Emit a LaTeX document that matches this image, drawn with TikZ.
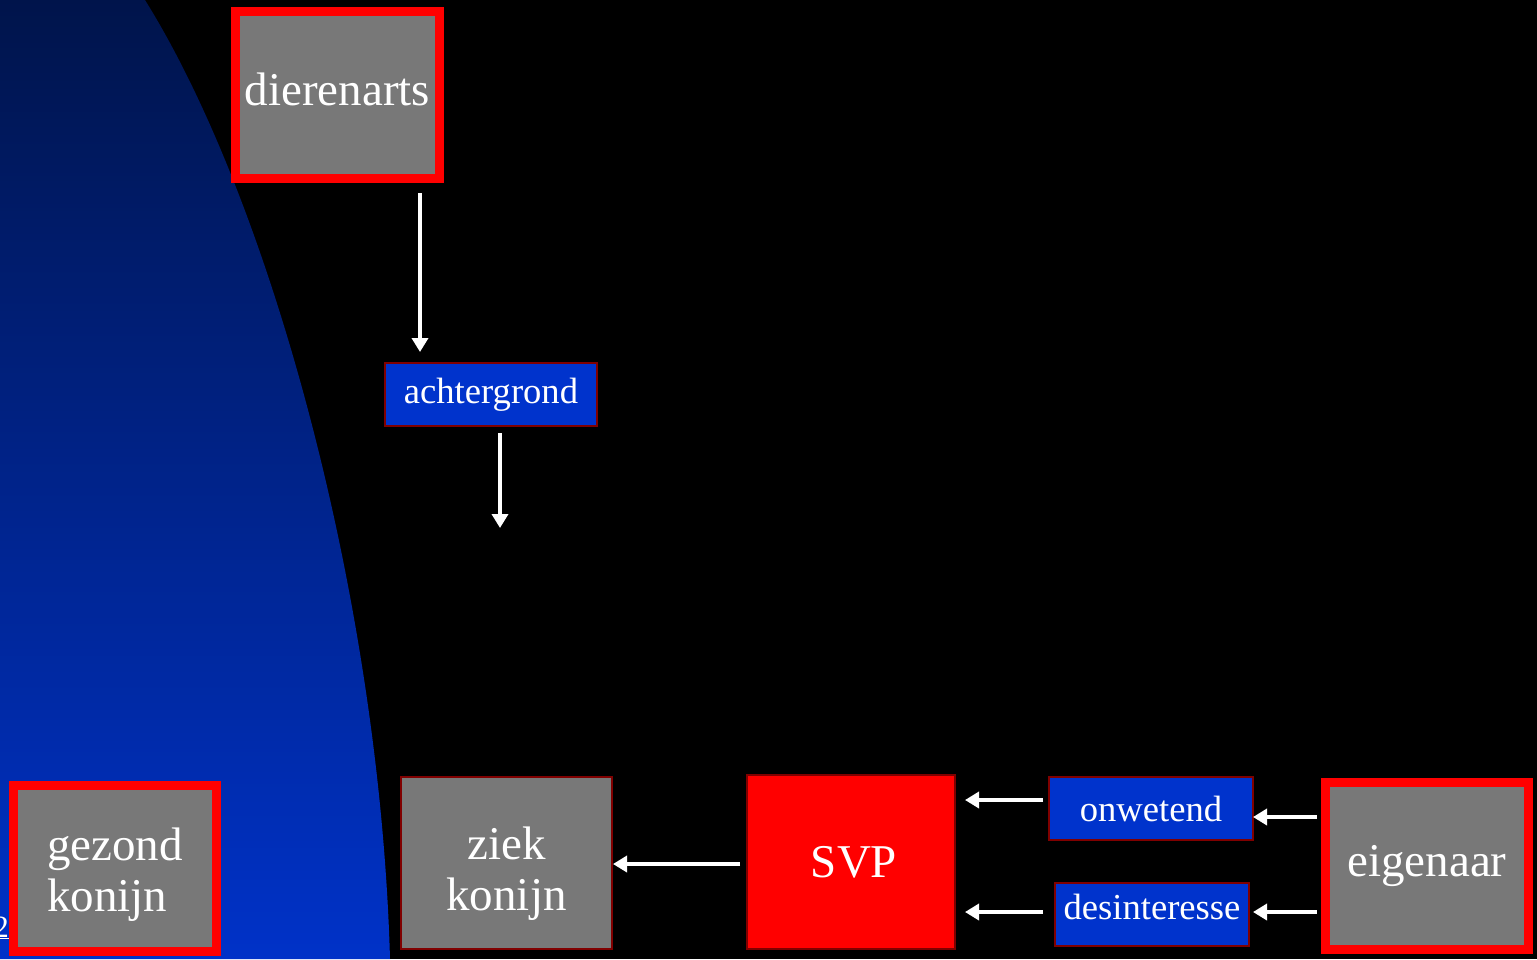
\documentclass[tikz,border=0pt]{standalone}
\usepackage{fontspec}
\setmainfont{Liberation Serif}
\usetikzlibrary{arrows.meta}
\definecolor{boxgrey}{RGB}{120,120,120}
\definecolor{boxblue}{RGB}{0,51,204}
\definecolor{darkred}{RGB}{128,0,0}
\definecolor{bgtop}{RGB}{0,20,75}
\definecolor{bgbot}{RGB}{0,50,200}
\tikzset{
  big/.style={font=\fontsize{47}{51}\selectfont, text=white, inner sep=0pt},
  small/.style={font=\fontsize{36.6}{40}\selectfont, text=white, inner sep=0pt},
  heavybox/.style={draw=red, line width=9pt, fill=boxgrey, inner sep=0pt, outer sep=0pt, miter limit=10},
  greybox/.style={draw=darkred, line width=2pt, fill=boxgrey, inner sep=0pt, outer sep=0pt},
  redbox/.style={draw=darkred, line width=2pt, fill=red, inner sep=0pt, outer sep=0pt},
  bluebox/.style={draw=darkred, line width=2pt, fill=boxblue, inner sep=0pt, outer sep=0pt},
  arr/.style={draw=white, line width=3.5pt, -{Triangle[width=16pt,length=14pt]}},
}
\begin{document}
\begin{tikzpicture}[x=1pt,y=-1pt]
\useasboundingbox (0,0) rectangle (1537,959);
\fill[black] (0,0) rectangle (1537,959);
\shade[top color=bgtop, bottom color=bgbot] (0,0) -- (145,0) .. controls (270,200) and (380,600) .. (390,959) -- (0,959) -- cycle;

% slide number, mostly cut off
\node[font=\fontsize{31}{34}\selectfont, text=white, inner sep=0pt, anchor=base east] (num) at (9,937) {\underline{2}};

% boxes
\node[heavybox, minimum width=204pt, minimum height=167pt,
      label={[big, yshift=6pt]center:dierenarts}] (dierenarts) at (337.5,95) {};
\node[bluebox, minimum width=212pt, minimum height=63pt,
      label={[small]center:achtergrond}] (achtergrond) at (491,394.5) {};
\node[heavybox, minimum width=203pt, minimum height=166.5pt,
      label={[big, align=left, yshift=-6pt]center:gezond\\konijn}] (gezond) at (115,868.25) {};
\node[greybox, minimum width=211pt, minimum height=172pt,
      label={[big, align=center, yshift=-11pt]center:ziek\\konijn}] (ziek) at (506.5,863) {};
\node[redbox, minimum width=208pt, minimum height=174pt,
      label={[big, xshift=3pt]center:SVP}] (svp) at (851,862) {};
\node[bluebox, minimum width=204pt, minimum height=63pt,
      label={[small]center:onwetend}] (onwetend) at (1151,808.5) {};
\node[bluebox, minimum width=194pt, minimum height=63pt,
      label={[small, yshift=8pt]center:desinteresse}] (desint) at (1152,914.5) {};
\node[heavybox, minimum width=203pt, minimum height=166.5pt,
      label={[big]center:eigenaar}] (eigenaar) at (1427,865.75) {};

% helper coordinates
\coordinate (x1) at (420,0);
\coordinate (x2) at (500,0);
\coordinate (a2end) at (500,528);
\coordinate (y3) at (0,864);
\coordinate (y4) at (0,800);
\coordinate (y5) at (0,912);
\coordinate (y6) at (0,817);

% arrows
\draw[arr, shorten <=14.5pt, shorten >=11pt] (dierenarts.south -| x1) -- (achtergrond.north -| x1);
\draw[arr, shorten <=7pt] (achtergrond.south -| x2) -- (a2end);
\draw[arr, shorten <=7pt, shorten >=1pt] (svp.west |- y3) -- (ziek.east |- y3);
\draw[arr, shorten <=6pt, shorten >=10pt] (onwetend.west |- y4) -- (svp.east |- y4);
\draw[arr, shorten <=12pt, shorten >=10pt] (desint.west |- y5) -- (svp.east |- y5);
\draw[arr, shorten <=9pt] (eigenaar.west |- y6) -- (onwetend.east |- y6);
\draw[arr, shorten <=9pt, shorten >=4pt] (eigenaar.west |- y5) -- (desint.east |- y5);
\end{tikzpicture}
\end{document}
